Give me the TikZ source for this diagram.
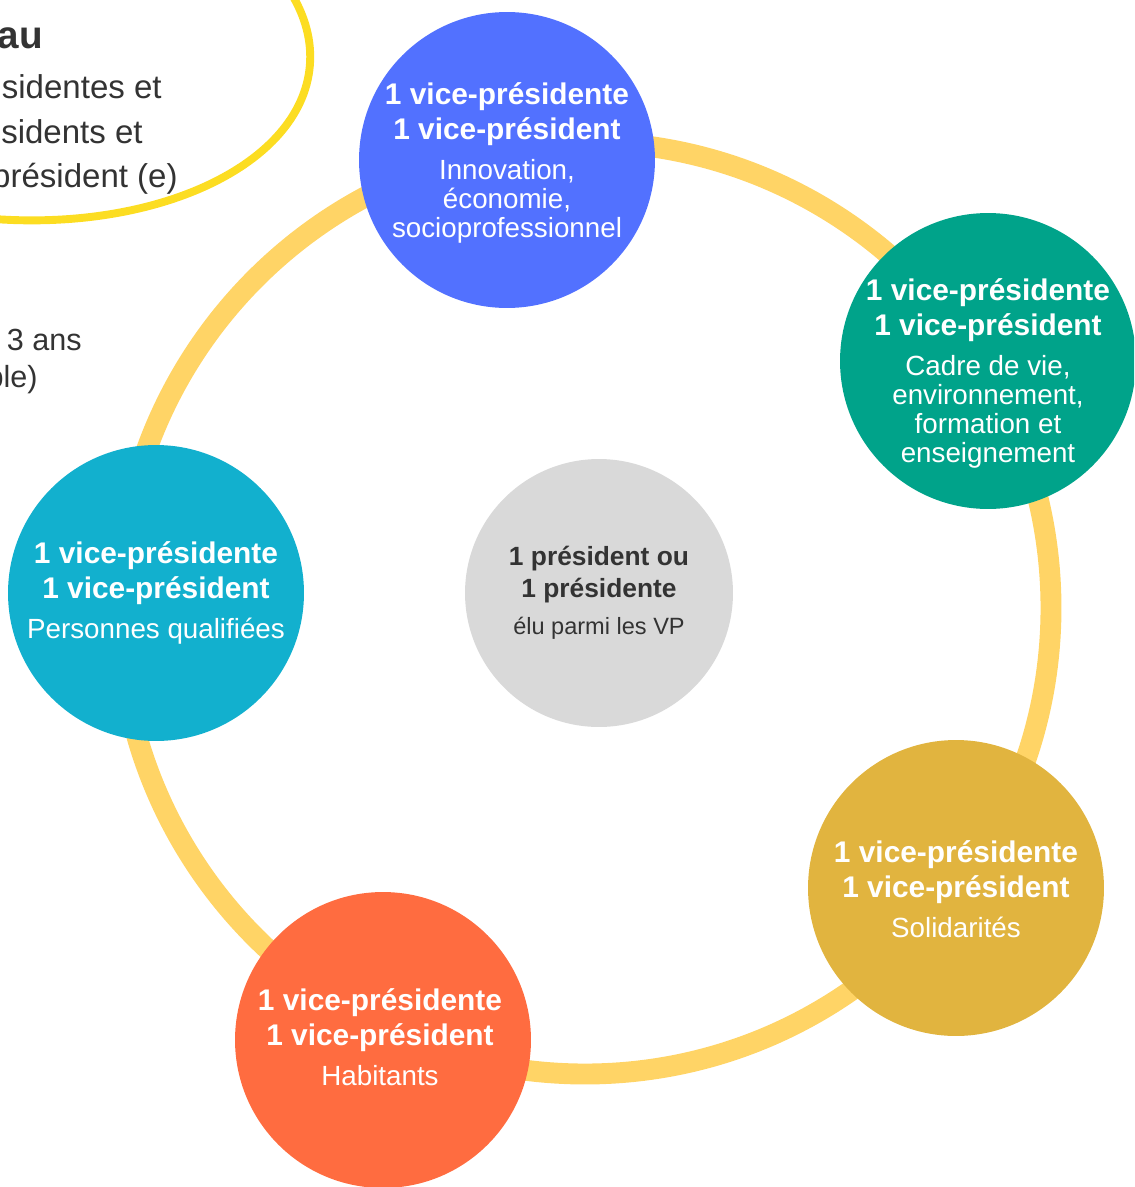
\documentclass[tikz,border=0pt]{standalone}
\usepackage{fontspec}
\setmainfont{Liberation Sans}
\usepackage{tikz}
\usetikzlibrary{calc}
\definecolor{ringYellow}{HTML}{FFD466}
\definecolor{lineYellow}{HTML}{FCDD22}
\definecolor{vpBlue}{HTML}{5271FF}
\definecolor{vpGreen}{HTML}{00A38A}
\definecolor{vpTeal}{HTML}{12B0CE}
\definecolor{vpGold}{HTML}{E1B43F}
\definecolor{vpOrange}{HTML}{FF6C40}
\definecolor{presGray}{HTML}{D9D9D9}
\definecolor{textDark}{HTML}{333333}
\newcommand{\vpf}{\fontsize{17}{20}\selectfont\bfseries}
\newcommand{\VPpair}{{\vpf 1 vice-présidente}\\[3.4pt]{\vpf 1 vice-président}\\[6.3pt]}

\begin{document}
\begin{tikzpicture}[x=0.02cm, y=-0.02cm,
  vpcircle/.style={circle, inner sep=0pt, minimum size=5.92cm},
  vptext/.style={text=white, inner sep=0pt, align=center,
    font=\fontsize{15.8}{16.5}\selectfont},
  sidetext/.style={text=textDark, inner sep=0pt, anchor=base east}]

  \useasboundingbox (0,0) rectangle (1134,1187);
  \clip (0,0) rectangle (1134,1187);

  % bureau ellipse
  \draw[lineYellow, line width=4.5pt] (1,39) ellipse [x radius=310, y radius=180, rotate=-5];
  \node[sidetext, font=\fontsize{22}{26}\selectfont\bfseries] (bureau) at (43,48) {au};
  \node[sidetext, font=\fontsize{18.8}{24}\selectfont] (vpf) at (162,98) {sidentes et};
  \node[sidetext, font=\fontsize{18.8}{24}\selectfont] (vpm) at (143,143) {sidents et};
  \node[sidetext, font=\fontsize{18.8}{24}\selectfont] (pres) at (178,187) {président (e)};
  \node[sidetext, font=\fontsize{17.4}{21}\selectfont] (mandat) at (82,350) {3 ans};
  \node[sidetext, font=\fontsize{17.4}{21}\selectfont] (renouv) at (38,387) {ble)};

  % ring
  \coordinate (O) at (585,608);
  \draw[ringYellow, line width=11.9pt] (O) circle (466);

  \node[circle, fill=presGray, minimum size=5.36cm, inner sep=0pt, text=textDark,
    align=center, font=\fontsize{13.4}{16}\selectfont] (president) at (599,593)
    {{\fontsize{15}{18}\selectfont\bfseries 1 président ou}\\[2pt]
     {\fontsize{15}{18}\selectfont\bfseries 1 présidente}\\[5pt]
     élu parmi les VP};

  \node[vpcircle, fill=vpBlue] (innov) at (507,160) {};
  \node[vpcircle, fill=vpGreen] (cadre) at (988,361) {};
  \node[vpcircle, fill=vpTeal] (qualif) at (156,593) {};
  \node[vpcircle, fill=vpGold] (solid) at (956,888) {};
  \node[vpcircle, fill=vpOrange] (habit) at (383,1040) {};

  \node[vptext] (innov-txt) at (507,163)
    {\VPpair Innovation,\\ économie,\\ socioprofessionnel};
  \node[vptext] (cadre-txt) at (988,373)
    {\VPpair Cadre de vie,\\ environnement,\\ formation et\\ enseignement};
  \node[vptext] (qualif-txt) at (156,593) {\VPpair Personnes qualifiées};
  \node[vptext] (solid-txt) at (956,889) {\VPpair Solidarités};
  \node[vptext] (habit-txt) at (380,1037) {\VPpair Habitants};

\end{tikzpicture}
\end{document}
